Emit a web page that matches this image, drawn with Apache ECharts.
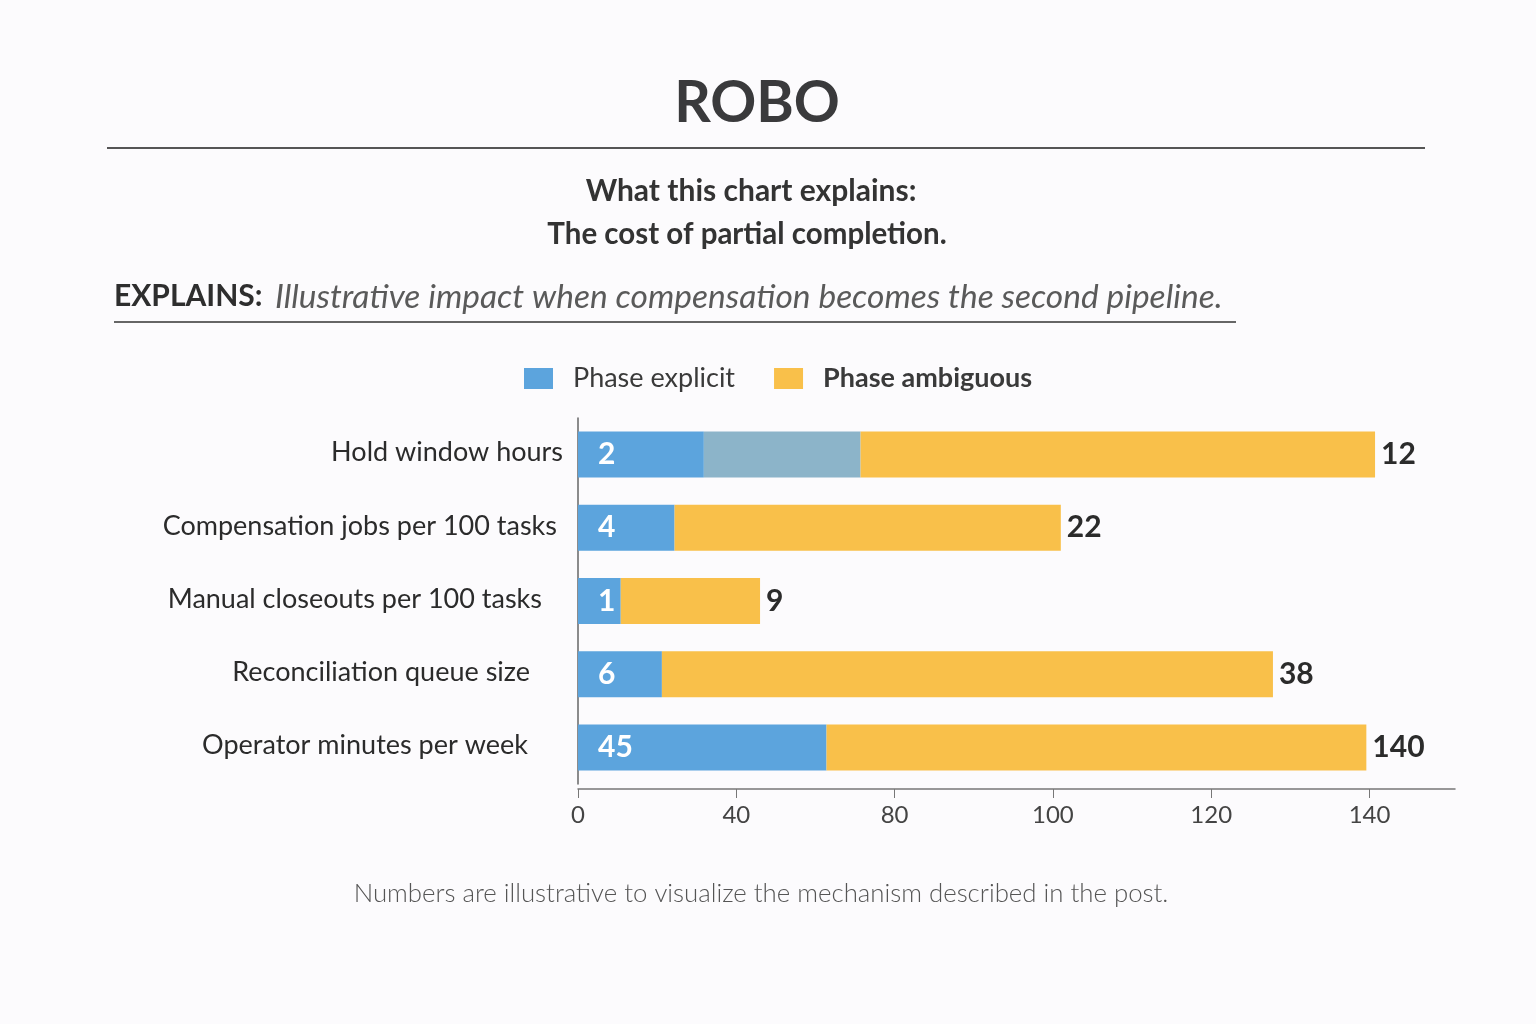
<!DOCTYPE html>
<html>
<head>
<meta charset="utf-8">
<script src="https://cdn.jsdelivr.net/npm/echarts@6/dist/echarts.min.js"></script>
<style>
html,body{margin:0;padding:0;background:#fcfbfd;}
#c{width:1536px;height:1024px;}
</style>
</head>
<body>
<div id="c"></div>
<script>
// Categories (top to bottom)
const categories = [
  'Hold window hours',
  'Compensation jobs per 100 tasks',
  'Manual closeouts per 100 tasks',
  'Reconciliation queue size',
  'Operator minutes per week'
];
// Bar segment lengths, in axis tick units
const explicitLen  = [0.795, 0.61, 0.27, 0.53, 1.57];
const overlapLen   = [0.99, 0, 0, 0, 0];
const ambiguousLen = [3.25, 2.44, 0.88, 3.86, 3.41];
// Printed values
const explicitLabels = ['2', '4', '1', '6', '45'];
const totalLabels    = ['12', '22', '9', '38', '140'];
// X axis tick labels
const tickLabels = ['0', '40', '80', '100', '120', '140'];
const tickPositions = [0, 1, 2, 3, 4, 5];
// extra right padding of category labels
const labelPad = [0, 6, 21, 33, 35];

const FONT = 'Lato, "Open Sans", sans-serif';
const chart = echarts.init(document.getElementById('c'));

const rich = {};
labelPad.forEach((p, i) => {
  rich['c' + i] = {fontFamily: FONT, fontSize: 27, color: '#2b2b2b', padding: [0, p, 4, 0]};
});

function txt(x, y, text, font, fill, align) {
  return {type: 'text', x: x, y: y, style: {text: text, font: font, fill: fill,
    textAlign: align || 'center', textVerticalAlign: 'middle'}};
}

chart.setOption({
  backgroundColor: '#fcfbfd',
  animation: false,
  legend: {
    left: 524, top: 365, padding: 0,
    itemWidth: 29, itemHeight: 21, itemGap: 39,
    icon: 'rect',
    data: [
      {name: 'Phase explicit', textStyle: {fontWeight: 'normal'}},
      {name: 'Phase ambiguous', textStyle: {fontWeight: 'bold'}}
    ],
    textStyle: {fontFamily: FONT, fontSize: 27, color: '#3a3a3a', padding: [0, 0, 0, 15]}
  },
  grid: {left: 578, right: 81, top: 418, bottom: 240, containLabel: false},
  xAxis: {
    type: 'value', min: 0, max: 5.54, interval: 1, offset: 5,
    splitLine: {show: false},
    axisLine: {show: true, lineStyle: {color: '#777', width: 1.5}},
    axisTick: {show: true, length: 9, lineStyle: {color: '#777'}, customValues: tickPositions},
    axisLabel: {
      customValues: tickPositions,
      fontFamily: FONT, fontSize: 24, color: '#444', margin: 14,
      formatter: v => tickLabels[Math.round(v)] ?? ''
    }
  },
  yAxis: {
    type: 'category', data: categories, inverse: true,
    axisLine: {show: true, lineStyle: {color: '#666', width: 1.5}},
    axisTick: {show: false},
    axisLabel: {
      margin: 15,
      formatter: (v, i) => '{c' + i + '|' + v + '}',
      rich: rich
    }
  },
  series: [
    {
      name: 'Phase explicit', type: 'bar', stack: 's', barWidth: 46,
      data: explicitLen,
      itemStyle: {color: '#5ca4dd'},
      label: {
        show: true, position: 'insideLeft', distance: 20,
        formatter: p => explicitLabels[p.dataIndex],
        fontFamily: FONT, fontSize: 30, fontWeight: 'bold', color: '#fff'
      }
    },
    {
      name: 'Overlap', type: 'bar', stack: 's', barWidth: 46,
      data: overlapLen,
      itemStyle: {color: '#8cb4c9'}
    },
    {
      name: 'Phase ambiguous', type: 'bar', stack: 's', barWidth: 46,
      data: ambiguousLen,
      itemStyle: {color: '#f9c04a'},
      label: {
        show: true, position: 'right', distance: 6,
        formatter: p => totalLabels[p.dataIndex],
        fontFamily: FONT, fontSize: 30, fontWeight: 'bold', color: '#2b2b2b'
      }
    }
  ],
  graphic: [
    txt(757, 104, 'ROBO', 'bold 57px ' + FONT, '#3a3a3c'),
    {type: 'line', shape: {x1: 107, y1: 148, x2: 1425, y2: 148}, style: {stroke: '#555', lineWidth: 2}},
    txt(751, 191, 'What this chart explains:', 'bold 30px ' + FONT, '#333'),
    txt(747, 234, 'The cost of partial completion.', 'bold 29.5px ' + FONT, '#333'),
    txt(114, 296, 'EXPLAINS:', 'bold 30px ' + FONT, '#2e2e2e', 'left'),
    txt(275, 297, 'Illustrative impact when compensation becomes the second pipeline.', 'italic 33.5px ' + FONT, '#5a5a5a', 'left'),
    {type: 'line', shape: {x1: 114, y1: 322, x2: 1236, y2: 322}, style: {stroke: '#666', lineWidth: 2}},
    txt(761, 894, 'Numbers are illustrative to visualize the mechanism described in the post.', '300 25.8px ' + FONT, '#555')
  ]
});
</script>
</body>
</html>
